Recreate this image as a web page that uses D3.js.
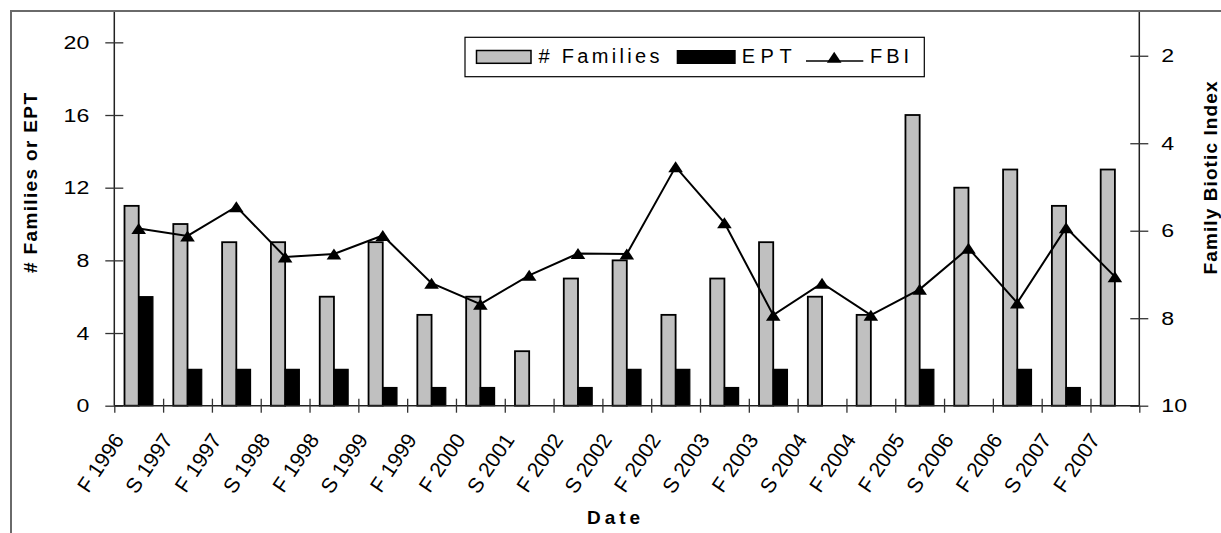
<!DOCTYPE html>
<html>
<head>
<meta charset="utf-8">
<script src="https://cdn.jsdelivr.net/npm/d3@7/dist/d3.min.js"></script>
<style>
  html, body { margin: 0; padding: 0; background: #fff; }
  svg { display: block; }
  text { font-family: "Liberation Sans", Arial, sans-serif; fill: #000; }
</style>
</head>
<body>
<svg id="chart" width="1221" height="533"></svg>
<script>
// Sampling dates (F = fall, S = spring)
const dates = ["F 1996", "S 1997", "F 1997", "S 1998", "F 1998", "S 1999", "F 1999",
  "F 2000", "S 2001", "F 2002", "S 2002", "F 2002", "S 2003", "F 2003", "S 2004",
  "F 2004", "F 2005", "S 2006", "F 2006", "S 2007", "F 2007"];
// Number of macroinvertebrate families per sample
const families = [11, 10, 9, 9, 6, 9, 5, 6, 3, 7, 8, 5, 7, 9, 6, 5, 16, 12, 13, 11, 13];
// EPT families (Ephemeroptera, Plecoptera, Trichoptera)
const ept = [6, 2, 2, 2, 2, 1, 1, 1, 0, 1, 2, 2, 1, 2, 0, 0, 2, 0, 2, 1, 0];
// Family Biotic Index
const fbi = [5.95, 6.12, 5.45, 6.6, 6.53, 6.11, 7.2, 7.68, 7.02, 6.52, 6.53, 4.54,
  5.82, 7.93, 7.2, 7.93, 7.34, 6.4, 7.65, 5.93, 7.05];
// Axis ticks
const leftTicks = [0, 4, 8, 12, 16, 20];
const rightTicks = [2, 4, 6, 8, 10];
const leftMax = 21.67;
const rightDomain = [1, 10];

const svg = d3.select("#chart");

// outer chart frame
svg.append("rect")
  .attr("x", 11).attr("y", 11)
  .attr("width", 1400).attr("height", 700)
  .attr("fill", "none").attr("stroke", "#6a6a6a").attr("stroke-width", 2);

const plot = { left: 114.3, right: 1139.3, top: 12, bottom: 405.7 };

const idx = d3.range(dates.length);
const x = d3.scaleBand().domain(idx).range([plot.left, plot.right]).paddingInner(0).paddingOuter(0);
const xSub = d3.scaleBand().domain(["fam", "ept"]).range([0, x.bandwidth()]).paddingInner(0).paddingOuter(0.718);
const yL = d3.scaleLinear().domain([0, leftMax]).range([plot.bottom, plot.top]);
const yR = d3.scaleLinear().domain(rightDomain).range([plot.top, plot.bottom]);
const xEdge = d3.scaleLinear().domain([0, dates.length]).range([plot.left, plot.right]);

// bars
const groups = svg.append("g").selectAll("g").data(idx).join("g")
  .attr("transform", i => `translate(${x(i)},0)`);
groups.append("rect")
  .attr("x", xSub("fam")).attr("width", xSub.bandwidth())
  .attr("y", i => yL(families[i])).attr("height", i => yL(0) - yL(families[i]))
  .attr("fill", "#c0c0c0").attr("stroke", "#000").attr("stroke-width", 1.8);
groups.filter(i => ept[i] > 0).append("rect")
  .attr("x", xSub("ept")).attr("width", xSub.bandwidth())
  .attr("y", i => yL(ept[i])).attr("height", i => yL(0) - yL(ept[i]))
  .attr("fill", "#000").attr("stroke", "#000").attr("stroke-width", 1.2);

// left axis
const gL = svg.append("g").attr("transform", `translate(${plot.left},0)`)
  .call(d3.axisLeft(yL).tickValues(leftTicks).tickSize(9).tickSizeOuter(0).tickFormat(d3.format("d")));
gL.select(".domain").attr("stroke", "#222").attr("stroke-width", 1.5)
  .attr("d", `M0,${plot.top}V${plot.bottom}`);
gL.selectAll(".tick line").attr("x1", -9).attr("x2", 9).attr("stroke", "#333").attr("stroke-width", 1.3);
gL.selectAll(".tick text").attr("x", -25 / 1.22).attr("transform", "scale(1.22,1)")
  .attr("font-size", 19).attr("font-family", "Liberation Sans, Arial, sans-serif").attr("fill", "#000");

// right axis (reversed)
const gR = svg.append("g").attr("transform", `translate(${plot.right},0)`)
  .call(d3.axisRight(yR).tickValues(rightTicks).tickSize(9).tickSizeOuter(0).tickFormat(d3.format("d")));
gR.select(".domain").attr("stroke", "#222").attr("stroke-width", 1.5)
  .attr("d", `M0,${plot.top}V${plot.bottom}`);
gR.selectAll(".tick line").attr("x1", -9).attr("x2", 9).attr("stroke", "#333").attr("stroke-width", 1.3);
gR.selectAll(".tick text").attr("x", 22 / 1.22).attr("transform", "scale(1.22,1)")
  .attr("font-size", 19).attr("font-family", "Liberation Sans, Arial, sans-serif").attr("fill", "#000");

// bottom axis with ticks between categories
const gB = svg.append("g").attr("transform", `translate(0,${plot.bottom})`)
  .call(d3.axisBottom(xEdge).tickValues(d3.range(dates.length + 1)).tickSize(7).tickSizeOuter(0).tickFormat(""));
gB.select(".domain").attr("stroke", "#222").attr("stroke-width", 1.5)
  .attr("d", `M${plot.left},0H${plot.right}`);
gB.selectAll(".tick line").attr("y1", d => (d === 0 || d === dates.length) ? 0 : -7).attr("y2", 7)
  .attr("stroke", "#333").attr("stroke-width", 1.3);

// rotated date labels
const labelG = svg.append("g").selectAll("g").data(idx).join("g")
  .attr("transform", i => `translate(${x(i) + x.bandwidth() / 2 - 14},${plot.bottom + 34})`);
labelG.append("text")
  .attr("transform", "rotate(-56)")
  .attr("text-anchor", "end")
  .style("font-size", "21px")
  .text(i => dates[i]);

// FBI line with triangle markers
const line = d3.line().x((d, i) => x(i) + x.bandwidth() / 2).y(d => yR(d));
svg.append("path").datum(fbi).attr("d", line)
  .attr("fill", "none").attr("stroke", "#000").attr("stroke-width", 2);
const tri = "M0,-5.5L7.3,5.5L-7.3,5.5Z";
svg.append("g").selectAll("path").data(fbi).join("path")
  .attr("transform", (d, i) => `translate(${x(i) + x.bandwidth() / 2},${yR(d)})`)
  .attr("d", tri).attr("fill", "#000");

// axis titles
svg.append("text")
  .attr("transform", "translate(37,183) rotate(-90)")
  .attr("text-anchor", "middle").attr("font-weight", "bold").attr("font-size", 19)
  .attr("textLength", 180).attr("lengthAdjust", "spacing")
  .text("# Families or EPT");
svg.append("text")
  .attr("transform", "translate(1217,178) rotate(-90)")
  .attr("text-anchor", "middle").attr("font-weight", "bold").attr("font-size", 19)
  .attr("textLength", 193).attr("lengthAdjust", "spacing")
  .text("Family Biotic Index");
svg.append("text")
  .attr("x", 587).attr("y", 523.5)
  .attr("font-weight", "bold").attr("font-size", 19)
  .attr("textLength", 53).attr("lengthAdjust", "spacing")
  .text("Date");

// legend
const lg = svg.append("g");
lg.append("rect").attr("x", 465).attr("y", 37.3).attr("width", 459.3).attr("height", 39.4)
  .attr("fill", "#fff").attr("stroke", "#000").attr("stroke-width", 1.2);
lg.append("rect").attr("x", 476.5).attr("y", 50.5).attr("width", 54.5).attr("height", 12.8)
  .attr("fill", "#c0c0c0").attr("stroke", "#000").attr("stroke-width", 1.5);
lg.append("text").attr("x", 538.5).attr("y", 62.5).attr("font-size", 20)
  .attr("textLength", 121).attr("lengthAdjust", "spacing").text("# Families");
lg.append("rect").attr("x", 676.7).attr("y", 50).attr("width", 59).attr("height", 14)
  .attr("fill", "#000");
lg.append("text").attr("x", 741.7).attr("y", 62.5).attr("font-size", 20)
  .attr("textLength", 50).attr("lengthAdjust", "spacing").text("EPT");
lg.append("line").attr("x1", 806).attr("x2", 863.3).attr("y1", 61).attr("y2", 61)
  .attr("stroke", "#000").attr("stroke-width", 1.5);
lg.append("path").attr("transform", "translate(834.2,57.2)").attr("d", tri).attr("fill", "#000");
lg.append("text").attr("x", 870).attr("y", 62.5).attr("font-size", 20)
  .attr("textLength", 39).attr("lengthAdjust", "spacing").text("FBI");
</script>
</body>
</html>
